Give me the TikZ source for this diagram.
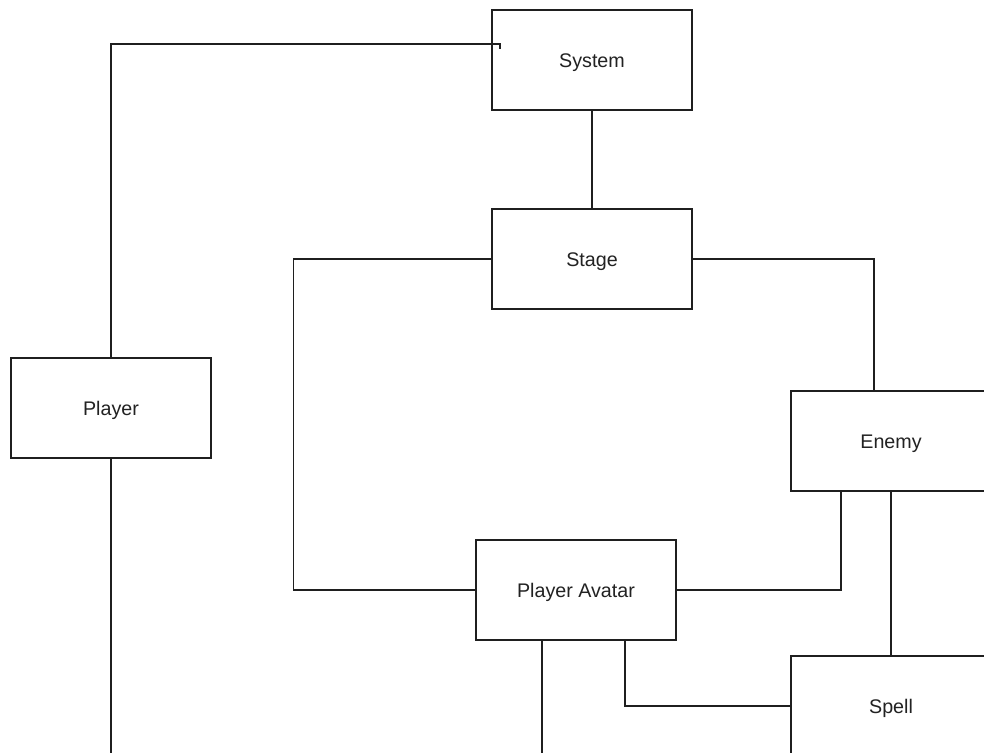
\documentclass[tikz,border=0pt]{standalone}
\usepackage{fontspec}
\setmainfont{Liberation Sans}
\usetikzlibrary{positioning,calc}
\definecolor{LineDark}{HTML}{1F1F1F}
\definecolor{TextDark}{HTML}{222222}

\begin{document}
\begin{tikzpicture}[
    x=0.025cm, y=-0.025cm,
    blk/.style={draw=LineDark, fill=white, line width=0.9pt, minimum width=5cm, minimum height=2.5cm, text height=10pt, text depth=0pt, text=TextDark, font=\fontsize{14}{16}\selectfont},
    link/.style={draw=LineDark, line width=0.9pt}
  ]
    \clip (0,0) rectangle (984,753);
    \useasboundingbox (0,0) rectangle (984,753);

    \node[blk] (sys) at (592, 60) {System};
    \node[blk] (stage) at (592, 259) {Stage};
    \node[blk] (player) at (111, 408) {Player};
    \node[blk] (enemy) at (891, 441) {Enemy};
    \node[blk] (avatar) at (576, 590) {Player Avatar};
    \node[blk] (spell) at (891, 706) {Spell};

    \coordinate (sysin) at (500, 44);

    \draw[link] (player.north) |- (sysin) -- ++(0, 5);
    \draw[link] (sys.south) -- (stage.north);
    \draw[link] (stage.west) -- ++(-198, 0) |- (avatar.west);
    \draw[link] (stage.east) -| ($(enemy.north)+(-17, 0)$);
    \draw[link] ($(enemy.south)+(-50, 0)$) |- (avatar.east);
    \draw[link] (enemy.south) -- (spell.north);
    \draw[link] ($(avatar.south)+(49, 0)$) |- (spell.west);
    \draw[link] ($(avatar.south)+(-34, 0)$) -- ++(0, 130);
    \draw[link] (player.south) -- ++(0, 310);
  \end{tikzpicture}
\end{document}
